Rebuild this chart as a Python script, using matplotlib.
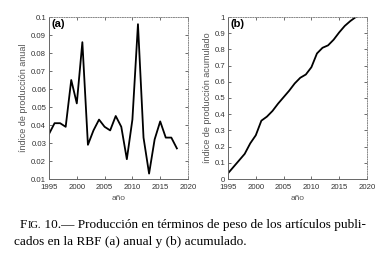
import matplotlib
matplotlib.use("Agg")
import matplotlib.pyplot as plt

years = list(range(1995, 2019))
anual = [0.035, 0.041, 0.041, 0.039, 0.065, 0.052, 0.086, 0.029, 0.037, 0.043, 0.039, 0.037,
         0.045, 0.039, 0.021, 0.043, 0.096, 0.033, 0.013, 0.032, 0.042, 0.033, 0.033, 0.027]
acumulado = [0.035, 0.075, 0.115, 0.155, 0.22, 0.27, 0.36, 0.385, 0.42, 0.465, 0.505, 0.545,
             0.59, 0.625, 0.645, 0.69, 0.775, 0.81, 0.825, 0.86, 0.905, 0.945, 0.975, 1.0]

xticks = [1995, 2000, 2005, 2010, 2015, 2020]
gray = "#555555"

plt.rcParams["font.family"] = ["Liberation Sans", "DejaVu Sans"]

fig = plt.figure(figsize=(3.87, 2.64), dpi=100)
ax1 = fig.add_axes([49 / 387, 1 - 179 / 264, 139 / 387, 162 / 264])
ax2 = fig.add_axes([228 / 387, 1 - 179 / 264, 139 / 387, 162 / 264])


def style(ax):
    for s in ("top", "right"):
        ax.spines[s].set_linestyle((0, (1, 1.5)))
        ax.spines[s].set_color("#888888")
        ax.spines[s].set_linewidth(0.7)
    for s in ("left", "bottom"):
        ax.spines[s].set_color("#666666")
        ax.spines[s].set_linewidth(0.7)
    ax.tick_params(direction="in", length=2, width=0.5, labelsize=5.6, colors="#333333",
                   top=True, right=True, pad=2)
    ax.tick_params(axis="x", pad=3.5)
    ax.set_xlim(1995, 2020)
    ax.set_xticks(xticks)
    ax.set_xlabel("año", fontsize=6, color=gray, labelpad=3)


ax1.plot(years, anual, color="black", lw=1.3)
style(ax1)
ax1.set_ylim(0.01, 0.1)
ax1.set_yticks([0.01 * i for i in range(1, 11)])
ax1.set_yticklabels(["0.01", "0.02", "0.03", "0.04", "0.05", "0.06", "0.07", "0.08", "0.09", "0.1"])
ax1.set_ylabel("índice de producción anual", fontsize=6.5, color=gray, labelpad=2)
ax1.text(0.02, 0.985, "(a)", transform=ax1.transAxes, fontsize=8, fontweight="bold",
         va="top", ha="left")

ax2.plot(years, acumulado, color="black", lw=1.3)
style(ax2)
ax2.set_ylim(0, 1)
ax2.set_yticks([0.1 * i for i in range(11)])
ax2.set_yticklabels(["0", "0.1", "0.2", "0.3", "0.4", "0.5", "0.6", "0.7", "0.8", "0.9", "1"])
ax2.set_ylabel("índice de producción acumulado", fontsize=6.5, color=gray, labelpad=2)
ax2.text(0.02, 0.985, "(b)", transform=ax2.transAxes, fontsize=8, fontweight="bold",
         va="top", ha="left")

# caption, with "FIG." in small caps
serif = ["Liberation Serif", "DejaVu Serif"]
renderer = fig.canvas.get_renderer()
x = 20
y1 = 1 - 228 / 264
for txt, size in [("F", 9.5), ("IG.", 7.6), (" 10.— Producción en términos de peso de los artículos publi-", 9.5)]:
    t = fig.text(x / 387, y1, txt, fontsize=size, family=serif, va="baseline", ha="left")
    x += t.get_window_extent(renderer).width
fig.text(14 / 387, 1 - 245 / 264, "cados en la RBF (a) anual y (b) acumulado.",
         fontsize=9.5, family=serif, va="baseline", ha="left")

fig.savefig("out.png", dpi=100)
